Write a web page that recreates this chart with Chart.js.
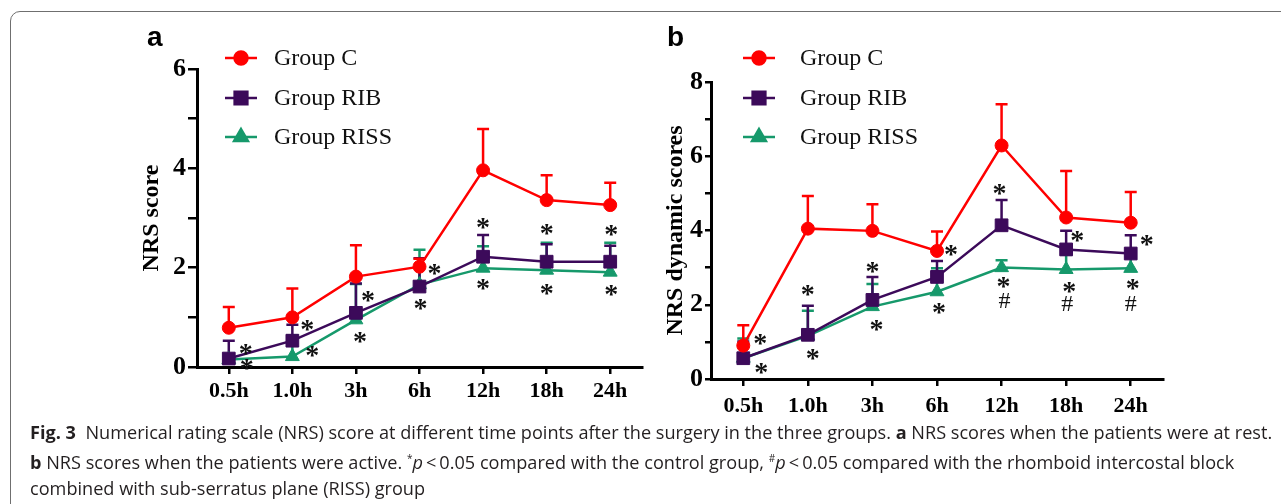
<!DOCTYPE html>
<html>
<head>
    <title>NRS score</title>
    <script src="https://cdn.jsdelivr.net/npm/chart.js"></script>
    <style>
        body { margin: 0; background: #fff; width: 1281px; height: 504px; overflow: hidden; position: relative; }
        .frame {
            position: absolute; left: 10px; top: 11px; width: 1300px; height: 520px;
            border: 1.5px solid #6f6f6f; border-radius: 10px;
        }
        .box { position: absolute; top: 0; width: 560px; height: 420px; }
        .caption {
            position: absolute; left: 30px; top: 419px;
            font-family: 'Open Sans', sans-serif; font-size: 18px; color: #231f20;
        }
        .caption div { line-height: 26px; white-space: nowrap; transform-origin: 0 50%; }
        .caption b { font-weight: 700; }
    </style>
</head>
<body>
    <div class="frame"></div>
    <div class="box" style="left:100px"><canvas id="chartA" width="560" height="420"></canvas></div>
    <div class="box" style="left:620px"><canvas id="chartB" width="560" height="420"></canvas></div>
    <div class="caption">
        <div><b>Fig. 3</b>&nbsp; Numerical rating scale (NRS) score at different time points after the surgery in the three groups. <b>a</b> NRS scores when the patients were at rest.</div>
        <div><b>b</b> NRS scores when the patients were active. <sup style="font-size:10px">*</sup><i>p</i>&thinsp;&lt;&thinsp;0.05 compared with the control group, <sup style="font-size:10px">#</sup><i>p</i>&thinsp;&lt;&thinsp;0.05 compared with the rhomboid intercostal block</div>
        <div>combined with sub-serratus plane (RISS) group</div>
    </div>

    <script>
        // 時間點
        const timeLabels = ['0.5h', '1.0h', '3h', '6h', '12h', '18h', '24h'];

        // a: 靜息 NRS (mean / SD)
        const restC = [0.79, 1.00, 1.82, 2.02, 3.96, 3.36, 3.26];
        const restCsd = [0.42, 0.58, 0.63, 0.16, 0.83, 0.50, 0.45];
        const restRIB = [0.17, 0.53, 1.09, 1.62, 2.22, 2.12, 2.12];
        const restRIBsd = [0.36, 0.32, 0.59, 0.57, 0.44, 0.35, 0.32];
        const restRISS = [0.15, 0.21, 0.95, 1.66, 1.99, 1.95, 1.91];
        const restRISSsd = [0.05, 0.43, 0.72, 0.70, 0.44, 0.55, 0.59];

        // b: 活動 NRS (mean / SD)
        const actC = [0.90, 4.05, 3.99, 3.45, 6.29, 4.35, 4.21];
        const actCsd = [0.55, 0.88, 0.72, 0.52, 1.11, 1.25, 0.83];
        const actRIB = [0.56, 1.19, 2.13, 2.75, 4.14, 3.49, 3.38];
        const actRIBsd = [0.45, 0.78, 0.62, 0.43, 0.68, 0.50, 0.49];
        const actRISS = [0.56, 1.16, 1.95, 2.35, 3.00, 2.95, 2.98];
        const actRISSsd = [0.53, 0.68, 0.61, 0.63, 0.20, 0.40, 0.32];

        // 顯著性標記: [時間點, y值, x偏移px, 符號]
        const marksA = [
            [0, 0.37, 17, '*'], [0, 0.07, 18, '*'],
            [1, 0.84, 15, '*'], [1, 0.32, 20, '*'],
            [2, 1.43, 12, '*'], [2, 0.60, 4, '*'],
            [3, 1.98, 15, '*'], [3, 1.28, 1, '*'],
            [4, 2.90, 0, '*'], [4, 1.67, 0, '*'],
            [5, 2.79, 0, '*'], [5, 1.58, 0, '*'],
            [6, 2.76, 1, '*'], [6, 1.55, 1, '*']
        ];
        const marksB = [
            [0, 1.07, 17, '*'], [0, 0.29, 18, '*'],
            [1, 2.41, 0, '*'], [1, 0.69, 5, '*'],
            [2, 3.02, 0, '*'], [2, 1.45, 4, '*'],
            [3, 3.49, 14, '*'], [3, 1.93, 2, '*'],
            [4, 5.13, -2, '*'], [4, 2.62, 2, '*'], [4, 2.14, 3, '#'],
            [5, 3.85, 11, '*'], [5, 2.48, 3, '*'], [5, 2.04, 1, '#'],
            [6, 3.76, 16, '*'], [6, 2.57, 2, '*'], [6, 2.05, 0, '#']
        ];

        const groupNames = ['Group C', 'Group RIB', 'Group RISS'];
        const colors = ['#ff0000', '#3c0a5a', '#16996b'];
        const styles = ['circle', 'rect', 'triangle'];
        const radii = [6.5, 9, 8];

        const serif = "'Liberation Serif', 'Times New Roman', serif";

        function makeDatasets(values, sds) {
            return values.map((v, i) => ({
                label: groupNames[i],
                data: v,
                sd: sds[i],
                borderColor: colors[i],
                backgroundColor: colors[i],
                borderWidth: 2.5,
                pointStyle: styles[i],
                pointRadius: radii[i],
                pointBorderWidth: 1,
                tension: 0
            }));
        }

        // 誤差線 + 標記 + 圖例
        const extrasPlugin = {
            id: 'extras',
            beforeDatasetsDraw(chart) {
                const ctx = chart.ctx;
                const x = chart.scales.x, y = chart.scales.y;
                ctx.save();
                ctx.lineWidth = 2.5;
                for (let d = chart.data.datasets.length - 1; d >= 0; d--) {
                    const ds = chart.data.datasets[d];
                    ctx.strokeStyle = ds.borderColor;
                    ds.data.forEach((v, i) => {
                        const px = x.getPixelForValue(i);
                        const top = y.getPixelForValue(v + ds.sd[i]);
                        ctx.beginPath();
                        ctx.moveTo(px, y.getPixelForValue(v));
                        ctx.lineTo(px, top);
                        ctx.moveTo(px - 6, top);
                        ctx.lineTo(px + 6, top);
                        ctx.stroke();
                    });
                }
                ctx.restore();
            },
            afterDraw(chart, args, opts) {
                const ctx = chart.ctx;
                const x = chart.scales.x, y = chart.scales.y;
                ctx.save();
                ctx.fillStyle = '#111';
                ctx.textAlign = 'center';
                opts.marks.forEach(m => {
                    const px = x.getPixelForValue(m[0]) + m[2];
                    const py = y.getPixelForValue(m[1]);
                    if (m[3] === '*') {
                        ctx.font = 'bold 28px ' + serif;
                        ctx.fillText('*', px, py + 0.47 * 28);
                    } else {
                        ctx.font = '24px ' + serif;
                        ctx.fillText('#', px, py + 0.34 * 24);
                    }
                });

                // 面板字母
                ctx.textAlign = 'left';
                ctx.fillStyle = '#000';
                ctx.font = "bold 28px 'Liberation Sans', Arial, sans-serif";
                ctx.fillText(opts.panel, 47, 46);

                // 圖例
                const lg = opts.legend;
                ctx.textBaseline = 'middle';
                ctx.font = '24px ' + serif;
                chart.data.datasets.forEach((ds, i) => {
                    const ly = lg.rows[i];
                    ctx.strokeStyle = ds.borderColor;
                    ctx.fillStyle = ds.borderColor;
                    ctx.lineWidth = 2.5;
                    ctx.beginPath();
                    ctx.moveTo(lg.x0, ly);
                    ctx.lineTo(lg.x0 + 32, ly);
                    ctx.stroke();
                    Chart.helpers.drawPoint(ctx, {
                        pointStyle: ds.pointStyle, radius: ds.pointRadius,
                        rotation: 0, borderWidth: 1
                    }, lg.x0 + 16, ly);
                    ctx.fillStyle = '#111';
                    ctx.fillText(ds.label, lg.tx, ly + 1);
                });
                ctx.restore();
            }
        };

        function makeChart(id, datasets, cfg) {
            return new Chart(document.getElementById(id), {
                type: 'line',
                data: { labels: timeLabels, datasets: datasets },
                plugins: [extrasPlugin],
                options: {
                    responsive: false,
                    animation: false,
                    layout: { padding: { top: cfg.top, right: cfg.right, bottom: 0, left: 0 } },
                    plugins: {
                        legend: { display: false },
                        tooltip: { enabled: false },
                        extras: { marks: cfg.marks, panel: cfg.panel, legend: cfg.legend }
                    },
                    scales: {
                        x: {
                            offset: true,
                            grid: { drawOnChartArea: false, tickLength: 7, color: '#000', lineWidth: 2.5, offset: false },
                            border: { color: '#000', width: 3 },
                            ticks: { color: '#000', padding: cfg.xPad, font: { family: serif, size: 22, weight: 'bold' }, maxRotation: 0, autoSkip: false },
                            afterFit: s => { s.height = cfg.xHeight; }
                        },
                        y: {
                            min: 0, max: cfg.max,
                            grid: { drawOnChartArea: false, tickLength: cfg.tick, color: '#000', lineWidth: 2.5 },
                            border: { color: '#000', width: 3 },
                            ticks: {
                                stepSize: 1, color: '#000', padding: 2,
                                font: { family: serif, size: 26, weight: 'bold' },
                                callback: v => (v % 2 === 0 ? v : '')
                            },
                            title: {
                                display: true, text: cfg.title, color: '#000',
                                font: { family: serif, size: 24, weight: 'bold' },
                                padding: { top: cfg.titlePad, bottom: 0 }
                            },
                            afterFit: s => { s.width = cfg.yWidth; }
                        }
                    }
                }
            });
        }

        makeChart('chartA', makeDatasets([restC, restRIB, restRISS], [restCsd, restRIBsd, restRISSsd]), {
            max: 6, title: 'NRS score', marks: marksA, panel: 'a',
            top: 69, right: 18, yWidth: 97, xHeight: 53, xPad: 4, tick: 9, titlePad: 37,
            legend: { x0: 125, tx: 174, rows: [58, 98, 137] }
        });

        makeChart('chartB', makeDatasets([actC, actRIB, actRISS], [actCsd, actRIBsd, actRISSsd]), {
            max: 8, title: 'NRS dynamic scores', marks: marksB, panel: 'b',
            top: 82, right: 17, yWidth: 91, xHeight: 41, xPad: 7, tick: 6, titlePad: 41,
            legend: { x0: 123, tx: 180, rows: [58, 98, 137] }
        });

        // 說明文字: 以第一行寬度 (1242px) 統一縮放
        const capLines = document.querySelectorAll('.caption div');
        capLines.forEach(el => { el.style.display = 'inline-block'; });
        const capScale = 1242 / capLines[0].scrollWidth;
        capLines.forEach(el => {
            el.style.display = 'block';
            el.style.transform = 'scaleX(' + capScale + ')';
        });
    </script>
</body>
</html>
